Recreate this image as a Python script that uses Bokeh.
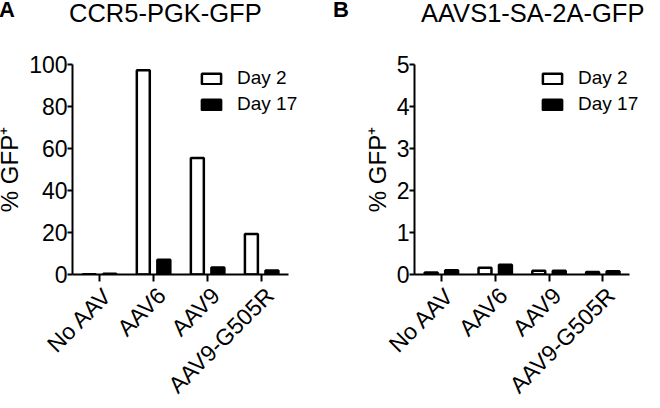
import math
from bokeh.plotting import figure
from bokeh.models import (ColumnDataSource, Range1d, FixedTicker, Div,
                          Legend, LegendItem, LinearAxis)
from bokeh.transform import dodge
from bokeh.layouts import row, column
from bokeh.embed import file_html
from bokeh.resources import INLINE

categories = ["No AAV", "AAV6", "AAV9", "AAV9-G505R"]
series_names = ["Day 2", "Day 17"]

a_day2 = [0.1, 97.3, 55.5, 19.3]
a_day17 = [0.4, 7.0, 3.3, 1.9]
a_ticks = [0, 20, 40, 60, 80, 100]

b_day2 = [0.05, 0.16, 0.09, 0.06]
b_day17 = [0.10, 0.23, 0.09, 0.08]
b_ticks = [0, 1, 2, 3, 4, 5]

FONT = "Liberation Sans"
TITLE_H = 30
FIG_W = 330
FIG_H = 408 - TITLE_H


def make_panel(day2, day17, ticks, border_left, frame_w, legend_x):
    n = len(categories)
    pos = [i + 0.5 for i in range(n)]          # category centres
    src = ColumnDataSource(dict(x=pos, d2=day2, d17=day17))
    x_end = n + 0.2                             # room for legend text
    fw = int(round(frame_w * x_end / n))
    p = figure(x_range=Range1d(0, x_end),
               y_range=Range1d(ticks[0], ticks[-1]),
               width=FIG_W, height=FIG_H,
               min_border_left=border_left,
               min_border_right=FIG_W - border_left - fw,
               min_border_top=62 - TITLE_H, min_border_bottom=132,
               output_backend="svg", toolbar_location=None, tools="")
    p.outline_line_color = None
    p.xgrid.visible = False
    p.ygrid.visible = False
    p.background_fill_color = "white"
    p.border_fill_color = "white"

    r1 = p.vbar(x=dodge("x", -0.19), top="d2", width=0.24,
                source=src, fill_color="white", line_color="black",
                line_width=2.5)
    r2 = p.vbar(x=dodge("x", 0.19), top="d17", width=0.24,
                source=src, fill_color="black", line_color="black",
                line_width=2.5)

    for ax in (p.xaxis[0], p.yaxis[0]):
        ax.axis_line_width = 2
        ax.axis_line_color = "black"
        ax.major_tick_line_width = 2
        ax.major_tick_line_color = "black"
        ax.minor_tick_line_color = None
        ax.major_tick_in = 0
        ax.major_label_text_font = FONT
        ax.major_label_text_color = "black"
    p.yaxis.ticker = FixedTicker(ticks=ticks)
    p.yaxis.major_tick_out = 5
    p.yaxis.major_label_standoff = 0
    p.yaxis.major_label_text_font_size = "23px"
    p.yaxis.axis_label = "% GFP\u207a"
    p.yaxis.axis_label_text_font = FONT
    p.yaxis.axis_label_text_color = "black"
    p.yaxis.axis_label_text_font_style = "normal"
    p.yaxis.axis_label_text_font_size = "24px"
    p.yaxis.axis_label_standoff = 3

    # tick axis (line + tick marks, no labels)
    p.xaxis.bounds = (0, n)
    p.xaxis.ticker = FixedTicker(ticks=pos)
    p.xaxis.major_label_overrides = {v: "" for v in pos}
    p.xaxis.major_label_text_font_size = "1px"
    p.xaxis.major_label_standoff = 0
    p.xaxis.major_tick_out = 7

    # label axis (rotated category names)
    lab_pos = [v + 0.15 for v in pos]
    lab = LinearAxis(ticker=FixedTicker(ticks=lab_pos),
                     major_label_overrides={v: c for v, c in
                                            zip(lab_pos, categories)},
                     axis_line_color=None, major_tick_line_color=None,
                     minor_tick_line_color=None, major_tick_in=0,
                     major_tick_out=0, major_label_standoff=10,
                     major_label_orientation=math.pi / 4,
                     major_label_text_font=FONT,
                     major_label_text_font_size="23px",
                     major_label_text_line_height=1.0,
                     major_label_text_color="black")
    p.add_layout(lab, "below")

    legend = Legend(items=[LegendItem(label=series_names[0], renderers=[r1]),
                           LegendItem(label=series_names[1], renderers=[r2])],
                    location=(legend_x, 159), padding=0, margin=0, spacing=4,
                    glyph_width=24, glyph_height=13, label_standoff=14,
                    label_text_font=FONT, label_text_font_size="19px",
                    label_text_color="black",
                    background_fill_alpha=0, border_line_color=None)
    p.add_layout(legend, "center")
    return p


pA = make_panel(a_day2, a_day17, a_ticks, 80, 216, 127)
pB = make_panel(b_day2, b_day17, b_ticks, 92, 215, 126)

span = ('<span style="position:absolute;left:{x}px;top:{y}px;font-size:{s}px;'
        'font-weight:{w};line-height:1.2;white-space:nowrap;color:black">{t}</span>')
title_html = (
    '<div style="position:relative;width:660px;height:%dpx;'
    'font-family:\'Liberation Sans\',Arial,sans-serif">' % TITLE_H
    + span.format(x=2, y=0, s=22, w="bold", t="A")
    + span.format(x=72, y=1, s=25.5, w="normal", t="CCR5-PGK-GFP")
    + span.format(x=336, y=0, s=22, w="bold", t="B")
    + span.format(x=424, y=1, s=25.5, w="normal", t="AAVS1-SA-2A-GFP")
    + '</div>')
titles = Div(text=title_html, width=660, height=TITLE_H)

layout = column(titles, row(pA, pB),
                styles={"position": "absolute", "left": "-8px", "top": "-8px",
                        "width": "660px", "min-width": "660px"})
open("out.html", "w").write(file_html(layout, INLINE))
